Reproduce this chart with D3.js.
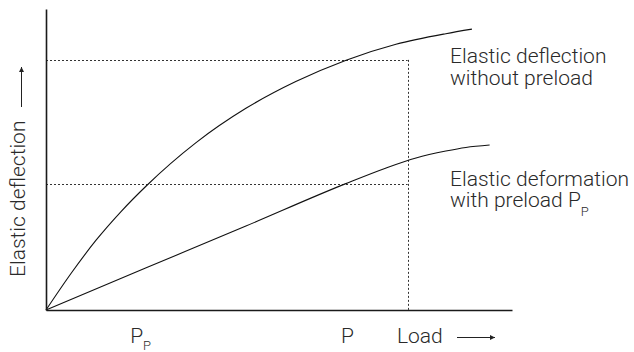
<!DOCTYPE html>
<html>
<head>
<meta charset="utf-8">
<script src="https://cdn.jsdelivr.net/npm/d3@7"></script>
<style>
  html, body { margin: 0; padding: 0; background: #fff; }
  svg { display: block; }
  text { font-family: "Roboto Light", Roboto, "Noto Sans", sans-serif; font-weight: 300; fill: #2a2a2a; }
</style>
</head>
<body>
<svg id="chart" width="634" height="352"></svg>
<script>
// ---- data (load and deflection in relative units, 0-100) ----
const upperLoad = [0, 5.4, 10.7, 16.1, 21.5, 32.2, 42.9, 53.6, 64.4, 75.1, 85.8, 91.4];
const upperDefl = [0, 12.2, 23.1, 32.7, 41.2, 55.6, 67.0, 75.9, 83.0, 88.3, 91.8, 93.3];
const lowerLoad = [0, 21.5, 42.9, 64.2, 73.0, 79.4, 85.8, 90.1, 95.2];
const lowerDefl = [0, 14.0, 27.9, 41.9, 47.2, 50.5, 52.8, 54.0, 54.8];
const tickLoads = [20.2, 64.6];
const tickMain = ["P", "P"];
const tickSub = ["P", ""];
const refLoad = 77.6;            // load P (dotted vertical)
const refDefl = [83.1, 41.9];    // deflections at load P (dotted horizontals)
const seriesLabels = [
  ["Elastic deflection", "without preload", ""],
  ["Elastic deformation", "with preload P", "P"]
];
const xTitle = "Load";
const yTitle = "Elastic deflection";

// ---- layout ----
const svg = d3.select("#chart");
const x = d3.scaleLinear().domain([0, 100]).range([46, 512]);
const y = d3.scaleLinear().domain([0, 100]).range([310, 9]);
const FS = 21, SUB = 13;

// dotted reference lines
const dots = svg.append("g").attr("stroke", "#333").attr("stroke-width", 1)
  .attr("stroke-dasharray", "2,2").attr("fill", "none");
refDefl.forEach(v => {
  dots.append("line").attr("x1", x(0)).attr("x2", x(refLoad))
    .attr("y1", Math.round(y(v)) + 0.5).attr("y2", Math.round(y(v)) + 0.5);
});
dots.append("line").attr("x1", Math.round(x(refLoad)) + 0.5).attr("x2", Math.round(x(refLoad)) + 0.5)
  .attr("y1", y(refDefl[0])).attr("y2", y(0));

// curves
const line = d3.line().x(d => x(d[0])).y(d => y(d[1])).curve(d3.curveMonotoneX);
const upper = upperLoad.map((v, i) => [v, upperDefl[i]]);
const lower = lowerLoad.map((v, i) => [v, lowerDefl[i]]);
[upper, lower].forEach(s => {
  svg.append("path").datum(s).attr("d", line)
    .attr("fill", "none").attr("stroke", "#111").attr("stroke-width", 1.1);
});

// axes
const xAxis = svg.append("g").attr("transform", `translate(0,${y(0)})`)
  .call(d3.axisBottom(x).tickValues(tickLoads).tickSize(0).tickSizeOuter(0).tickFormat(""));
const yAxis = svg.append("g").attr("transform", `translate(${x(0)},0)`)
  .call(d3.axisLeft(y).tickValues([]).tickSizeOuter(0));
[xAxis, yAxis].forEach(g => g.select(".domain").attr("stroke", "#1a1a1a").attr("stroke-width", 1.6));

xAxis.selectAll(".tick text").each(function(d, i) {
  const t = d3.select(this).attr("y", 33).attr("dy", null)
    .attr("font-size", FS).attr("fill", "#2a2a2a").attr("text-anchor", "middle")
    .style("font-family", "'Roboto Light', Roboto, sans-serif").style("font-weight", 300);
  t.text(null);
  t.append("tspan").text(tickMain[i]);
  if (tickSub[i]) t.append("tspan").attr("font-size", SUB).attr("dy", 7).text(tickSub[i]);
});

// axis titles with arrows
svg.append("defs").append("marker").attr("id", "arr")
  .attr("viewBox", "0 0 10 10").attr("refX", 10).attr("refY", 5)
  .attr("markerWidth", 8).attr("markerHeight", 5).attr("markerUnits", "userSpaceOnUse")
  .attr("orient", "auto")
  .append("path").attr("d", "M0,0L10,5L0,10Z").attr("fill", "#222");

svg.append("text").attr("x", 397).attr("y", 343).attr("font-size", FS).text(xTitle);
svg.append("line").attr("x1", 457).attr("x2", 495).attr("y1", 337.5).attr("y2", 337.5)
  .attr("stroke", "#222").attr("stroke-width", 1).attr("marker-end", "url(#arr)");

svg.append("text").attr("transform", "translate(25,277) rotate(-90)")
  .attr("font-size", FS).text(yTitle);
svg.append("line").attr("x1", 21.5).attr("x2", 21.5).attr("y1", 107).attr("y2", 67)
  .attr("stroke", "#222").attr("stroke-width", 1).attr("marker-end", "url(#arr)");

// series labels
const labelPos = [[450, 63, 85], [450, 186, 207]];
seriesLabels.forEach((lab, i) => {
  const [lx, y1, y2] = labelPos[i];
  svg.append("text").attr("x", lx).attr("y", y1).attr("font-size", FS).text(lab[0]);
  const t = svg.append("text").attr("x", lx).attr("y", y2).attr("font-size", FS);
  t.append("tspan").text(lab[1]);
  if (lab[2]) t.append("tspan").attr("font-size", SUB).attr("dy", 9).text(lab[2]);
});
</script>
</body>
</html>
